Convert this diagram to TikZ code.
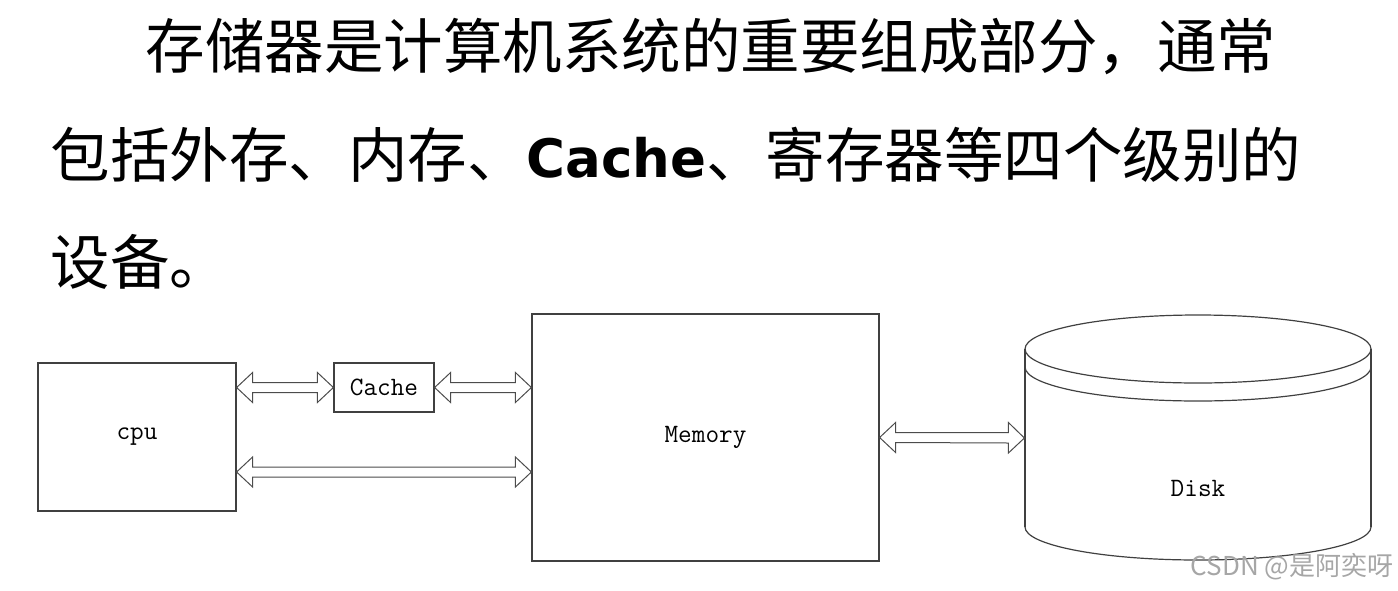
\documentclass[tikz,border=0pt]{standalone}
\usepackage{fontspec}
\usetikzlibrary{calc}
\newfontfamily\cjk{Noto Sans CJK SC}
\newfontfamily\dvb{DejaVu Sans Bold}
\begin{document}
\begin{tikzpicture}[x=1pt,y=-1pt,
  line width=1.2pt,
  box/.style={draw=black!75, inner sep=0pt, font=\ttfamily\fontsize{26.5pt}{28pt}\selectfont},
  lbl/.style={inner sep=0pt, font=\ttfamily\fontsize{26.5pt}{28pt}\selectfont},
  bigtext/.style={inner sep=0pt, anchor=base west, font=\cjk\fontsize{59.5pt}{60pt}\selectfont},
  hollow/.style={draw=black!70, line width=1pt, fill=white, line join=miter,
    to path={let \p1=(\tikztostart), \p2=(\tikztotarget) in
      (\x1,\y1) -- ++(16pt,15pt) -- ++(0,-10pt) -- (\x2-16pt,\y1+5pt) -- ++(0,10pt)
      -- (\x2,\y2) -- ++(-16pt,-15pt) -- ++(0,10pt) -- (\x1+16pt,\y1-5pt) -- ++(0,-10pt) -- cycle}},
  disk/.style={draw=black!75, line width=1.2pt}
]
\useasboundingbox (0,0) rectangle (1398,590);

% heading text
\node[bigtext] (l1) at (145,68.5) {存储器是计算机系统的重要组成部分，通常};
\node[bigtext] (l2) at (50,177.5) {包括外存、内存、{\dvb\fontsize{53pt}{60pt}\selectfont Cache}、寄存器等四个级别的};
\node[bigtext] (l3) at (50,284.5) {设备。};

% boxes
\node[box, minimum width=198pt, minimum height=148pt] (cpu) at (137,437) {cpu};
\node[box, minimum width=100pt, minimum height=49pt] (cache) at (384,387.5) {Cache};
\node[box, minimum width=347pt, minimum height=247pt] (mem) at (705.5,437.5) {Memory};

% disk
\draw[disk] (1198,349) ellipse [x radius=173pt, y radius=34pt];
\draw[disk] (1025,349) -- (1025,527);
\draw[disk] (1371,349) -- (1371,527);
\draw[disk] (1025,367) arc [start angle=180, end angle=360, x radius=173pt, y radius=34pt];
\draw[disk] (1025,527) arc [start angle=180, end angle=360, x radius=173pt, y radius=33pt];
\node[inner sep=0pt, minimum width=346pt, minimum height=178pt] (disk) at (1198,438) {};
\node[lbl] (disklabel) at (1198,488) {Disk};

% arrows
\draw[hollow] (cpu.east |- cache.west) to (cache.west);
\draw[hollow] (cache.east) to (mem.west |- cache.east);
\draw[hollow] ([yshift=-35pt]cpu.east) to ([yshift=-35pt]cpu.east -| mem.west);
\draw[hollow] (mem.east) to (disk.west);

% watermark
\node[inner sep=0pt, anchor=east, text=black!35, font=\cjk\fontsize{26pt}{27pt}\selectfont] (wm) at (1394,567) {CSDN @是阿奕呀};
\end{tikzpicture}
\end{document}
